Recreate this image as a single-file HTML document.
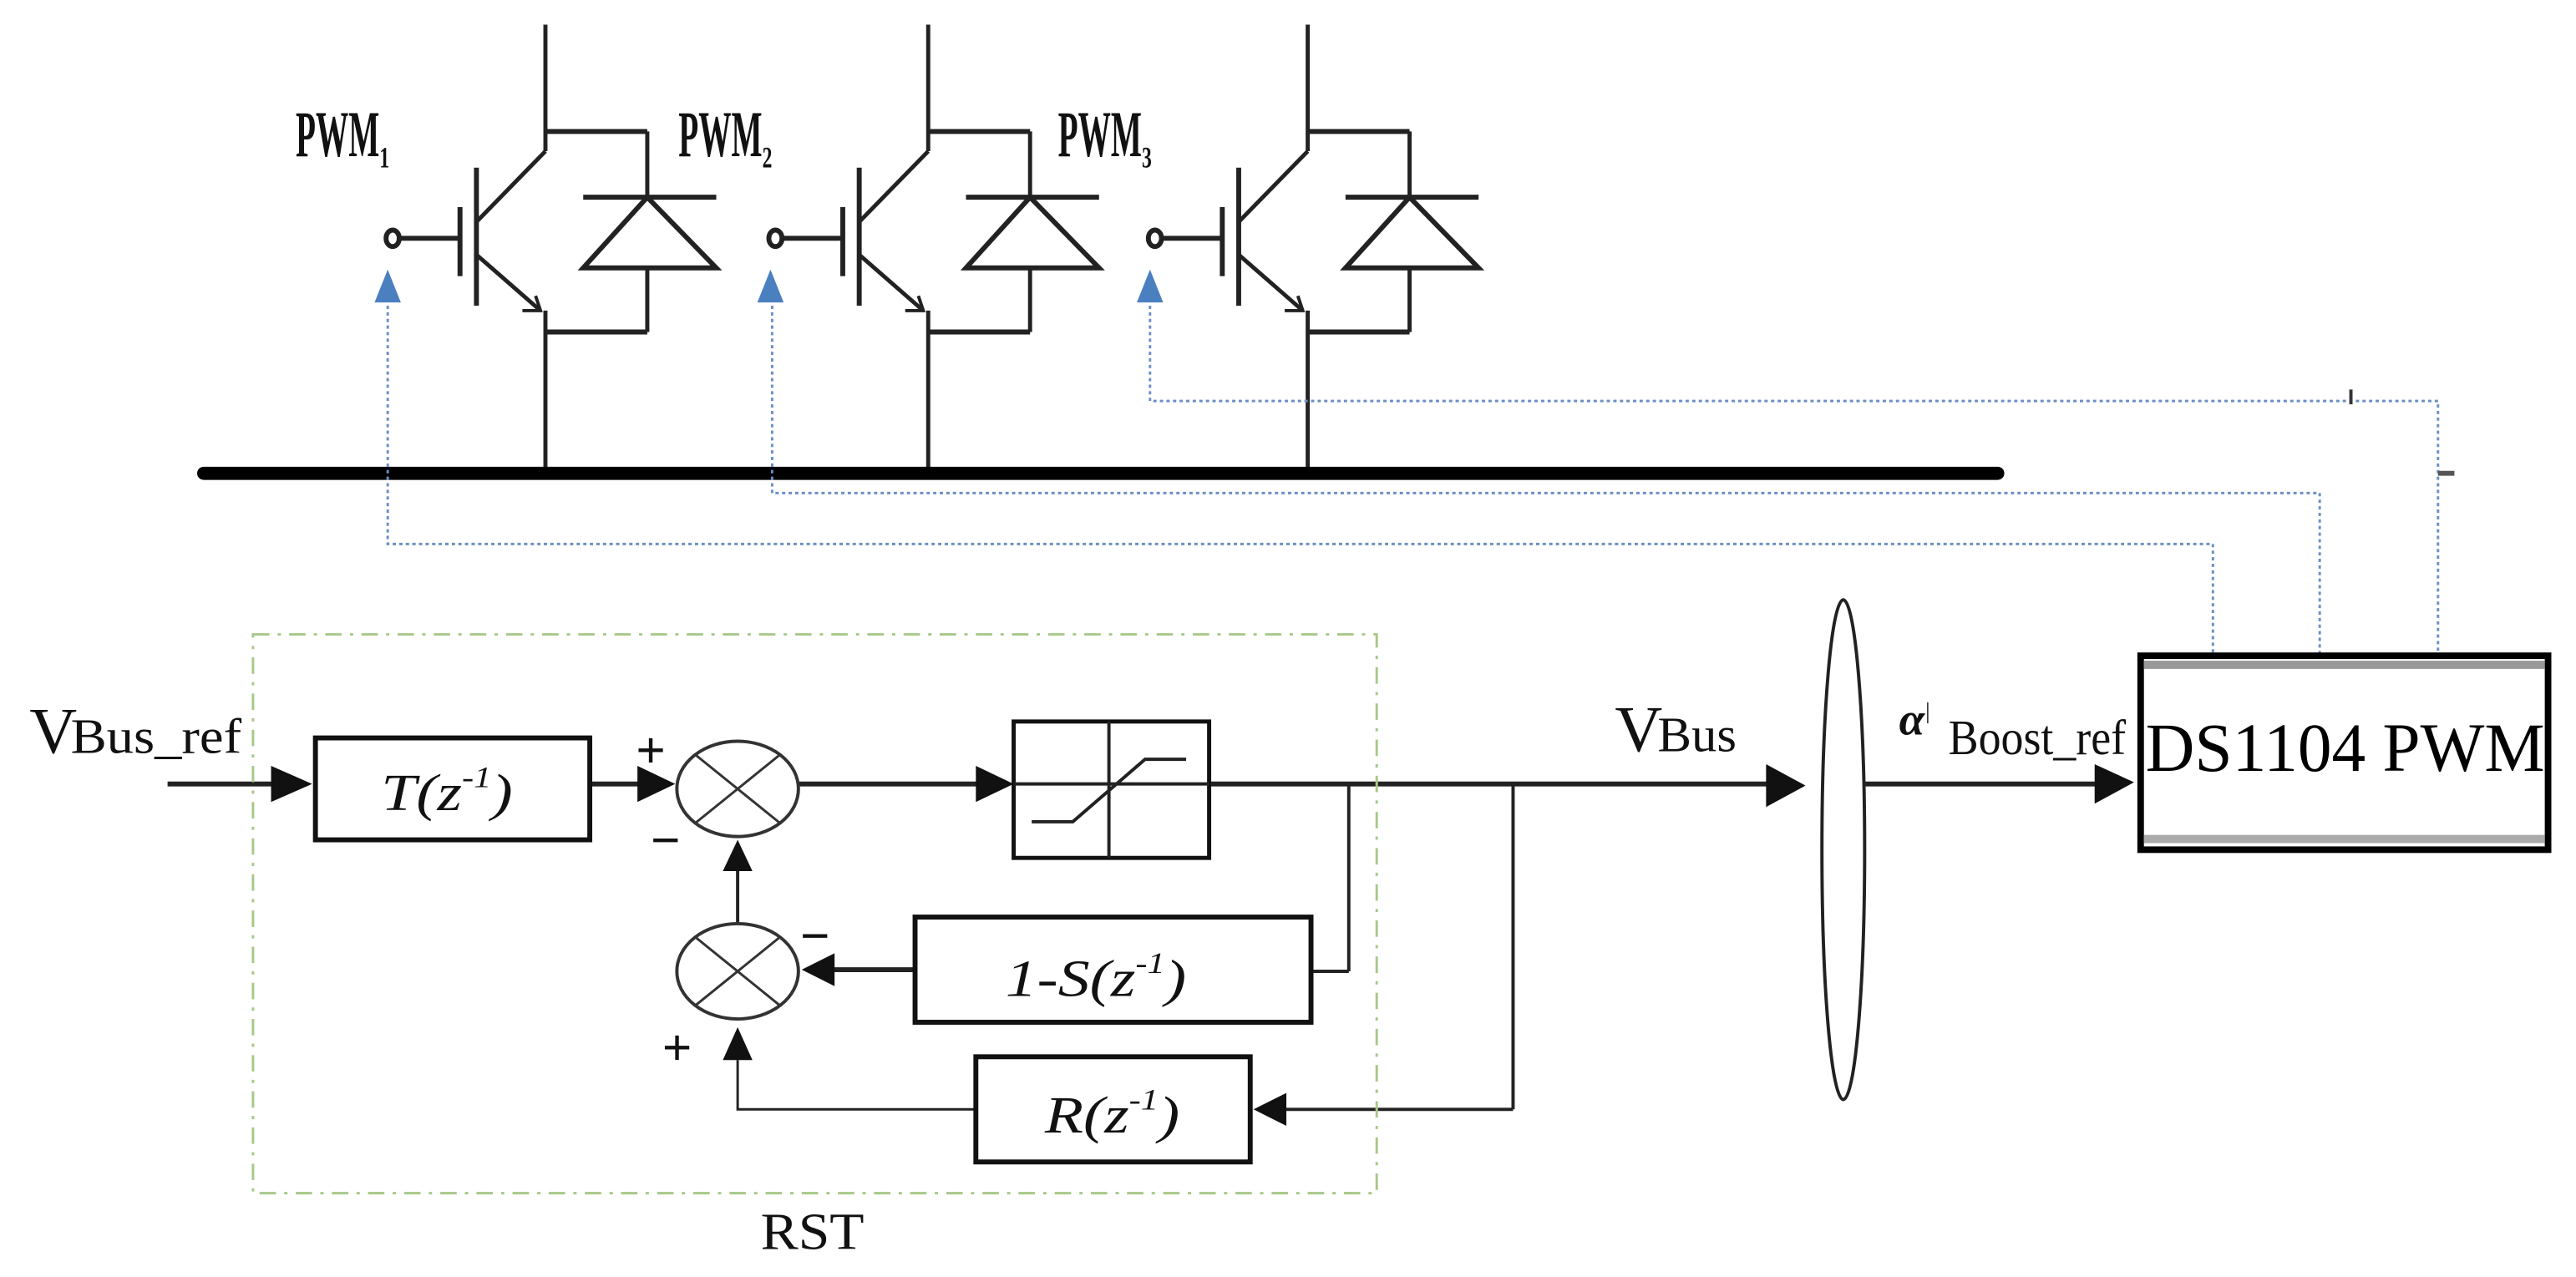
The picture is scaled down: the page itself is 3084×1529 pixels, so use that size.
<!DOCTYPE html>
<html><head><meta charset="utf-8"><style>
html,body{margin:0;padding:0;background:#fff;}
svg{display:block;}
text{font-family:"Liberation Serif",serif;}
</style></head><body>
<svg width="3084" height="1529" viewBox="0 0 1568 777" preserveAspectRatio="none" xmlns="http://www.w3.org/2000/svg">
<rect width="1568" height="777" fill="#fff"/>
<defs>
<g id="igbt" stroke="#222" fill="none">
  <line x1="332" y1="15" x2="332" y2="92" stroke-width="2.5"/>
  <line x1="332" y1="80" x2="394" y2="80" stroke-width="3"/>
  <line x1="332" y1="92" x2="290" y2="135" stroke-width="2.5"/>
  <line x1="290" y1="102" x2="290" y2="186" stroke-width="3"/>
  <line x1="280" y1="126" x2="280" y2="168" stroke-width="3"/>
  <line x1="244" y1="145" x2="280" y2="145" stroke-width="3"/>
  <ellipse cx="239" cy="145" rx="4" ry="5" stroke-width="3"/>
  <line x1="290" y1="155" x2="329" y2="189" stroke-width="2.5"/>
  <polyline points="318,189 329,189 326,180" stroke-width="2"/>
  <line x1="332" y1="189" x2="332" y2="288" stroke-width="2.5"/>
  <line x1="332" y1="202" x2="394" y2="202" stroke-width="3"/>
  <line x1="394" y1="80" x2="394" y2="120" stroke-width="2.5"/>
  <line x1="355" y1="120" x2="436" y2="120" stroke-width="3"/>
  <polygon points="394,120 355,163 436,163" stroke-width="3"/>
  <line x1="394" y1="163" x2="394" y2="202" stroke-width="2.5"/>
  <polygon points="228,184 244,184 236,164" fill="#4a7fc0" stroke="none"/>
</g>
</defs>
<use href="#igbt"/>
<use href="#igbt" transform="translate(233,0)"/>
<use href="#igbt" transform="translate(464,0)"/>
<g font-weight="bold" fill="#111">
<text x="180" y="95" font-size="40" textLength="51" lengthAdjust="spacingAndGlyphs">PWM</text><text x="231" y="102" font-size="18" textLength="6" lengthAdjust="spacingAndGlyphs">1</text>
<text x="413" y="95" font-size="40" textLength="51" lengthAdjust="spacingAndGlyphs">PWM</text><text x="464" y="102" font-size="18" textLength="6" lengthAdjust="spacingAndGlyphs">2</text>
<text x="644" y="95" font-size="40" textLength="51" lengthAdjust="spacingAndGlyphs">PWM</text><text x="695" y="102" font-size="18" textLength="6" lengthAdjust="spacingAndGlyphs">3</text>
</g>
<line x1="124" y1="288" x2="1216" y2="288" stroke="#000" stroke-width="8" stroke-linecap="round"/>
<g stroke="#6c8fc4" stroke-width="1.5" fill="none" stroke-dasharray="2,2">
<polyline points="236,186 236,331 1347,331 1347,398"/>
<polyline points="470,186 470,300 1412,300 1412,398"/>
<polyline points="700,186 700,244 1484,244 1484,398"/>
</g>
<line x1="1431" y1="237" x2="1431" y2="246" stroke="#333" stroke-width="2"/>
<line x1="1484" y1="288" x2="1494" y2="288" stroke="#555" stroke-width="3"/>
<rect x="1303" y="399" width="248" height="118" fill="#fff" stroke="#000" stroke-width="4"/>
<rect x="1305" y="402" width="244" height="5" fill="#999"/>
<rect x="1305" y="508" width="244" height="5" fill="#aaa"/>
<text x="1306" y="469" font-size="42" textLength="243" lengthAdjust="spacingAndGlyphs">DS1104 PWM</text>
<ellipse cx="1122" cy="517" rx="13" ry="152" fill="none" stroke="#222" stroke-width="2"/>
<g stroke="#222" fill="none" stroke-width="3">
<line x1="102" y1="477" x2="170" y2="477"/>
<line x1="359" y1="477" x2="395" y2="477"/>
<line x1="485" y1="477" x2="600" y2="477"/>
<line x1="736" y1="477" x2="1078" y2="477"/>
<line x1="1135" y1="477" x2="1278" y2="477"/>
<line x1="821" y1="477" x2="821" y2="591" stroke-width="2"/>
<line x1="821" y1="591" x2="798" y2="591" stroke-width="2"/>
<line x1="921" y1="477" x2="921" y2="675" stroke-width="2"/>
<line x1="921" y1="675" x2="780" y2="675" stroke-width="2"/>
<line x1="557" y1="590" x2="505" y2="590"/>
<line x1="449" y1="562" x2="449" y2="528" stroke-width="2"/>
<polyline points="594,675 449,675 449,645" stroke-width="1.5"/>
</g>
<g fill="#111">
<polygon points="190,477 165,466 165,488"/>
<polygon points="411,477 388,466 388,488"/>
<polygon points="617,477 594,466 594,488"/>
<polygon points="1099,478 1075,465 1075,491"/>
<polygon points="1299,476 1275,465 1275,489"/>
<polygon points="488,590 508,580 508,600"/>
<polygon points="449,511 440,530 458,530"/>
<polygon points="449,625 440,645 458,645"/>
<polygon points="763,675 783,665 783,685"/>
</g>
<g fill="#fff" stroke="#111" stroke-width="3">
<rect x="192" y="449" width="167" height="62"/>
<rect x="557" y="558" width="241" height="64"/>
<rect x="594" y="643" width="167" height="64"/>
<rect x="617" y="439" width="119" height="83" stroke-width="2.5"/>
</g>
<line x1="675" y1="439" x2="675" y2="522" stroke="#222" stroke-width="2"/>
<polyline points="628,500 653,500 697,462 722,462" fill="none" stroke="#222" stroke-width="2"/>
<line x1="736" y1="477" x2="617" y2="477" stroke="#222" stroke-width="2"/>
<g fill="#fff" stroke="#333" stroke-width="2">
<ellipse cx="449" cy="480" rx="37" ry="29"/>
<ellipse cx="449" cy="591" rx="37" ry="29"/>
</g>
<g stroke="#333" stroke-width="1.5">
<line x1="423" y1="459" x2="475" y2="501"/><line x1="475" y1="459" x2="423" y2="501"/>
<line x1="423" y1="570" x2="475" y2="612"/><line x1="475" y1="570" x2="423" y2="612"/>
</g>
<g fill="#111" font-size="32" font-weight="bold">
<text x="387" y="467">+</text>
<text x="396" y="522">−</text>
<text x="487" y="580">−</text>
<text x="403" y="648">+</text>
</g>
<g font-style="italic" font-size="32" fill="#111">
<text x="232" y="493" textLength="80" lengthAdjust="spacingAndGlyphs">T(z<tspan font-size="18" dy="-14">-1</tspan><tspan dy="14">)</tspan></text>
<text x="612" y="606" textLength="110" lengthAdjust="spacingAndGlyphs">1-S(z<tspan font-size="18" dy="-14">-1</tspan><tspan dy="14">)</tspan></text>
<text x="636" y="689" textLength="82" lengthAdjust="spacingAndGlyphs">R(z<tspan font-size="18" dy="-14">-1</tspan><tspan dy="14">)</tspan></text>
</g>
<g fill="#111">
<text x="18" y="458" font-size="40">V</text><text x="43" y="458" font-size="30" textLength="104" lengthAdjust="spacingAndGlyphs">Bus_ref</text>
<text x="983" y="457" font-size="40">V</text><text x="1009" y="457" font-size="30" textLength="48" lengthAdjust="spacingAndGlyphs">Bus</text>
<text x="1156" y="447" font-size="28" font-style="italic" font-weight="bold">α</text><text x="1172" y="437" font-size="14">|</text><text x="1186" y="459" font-size="30" textLength="108" lengthAdjust="spacingAndGlyphs">Boost_ref</text>
<text x="463" y="760" font-size="32" textLength="63" lengthAdjust="spacingAndGlyphs">RST</text>
</g>
<rect x="154" y="386" width="684" height="340" fill="none" stroke="#a8c888" stroke-width="1.5" stroke-dasharray="10,5,2,5"/>
</svg>
</body></html>
